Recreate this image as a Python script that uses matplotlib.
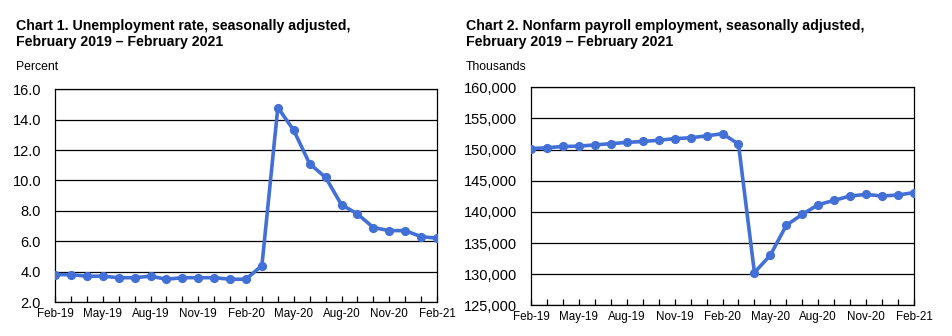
import matplotlib
matplotlib.use("Agg")
import matplotlib.pyplot as plt
from matplotlib.ticker import FuncFormatter, MultipleLocator, FixedLocator

plt.rcParams['font.family'] = ['Liberation Sans', 'DejaVu Sans']

months = ["Feb-19", "Mar-19", "Apr-19", "May-19", "Jun-19", "Jul-19", "Aug-19", "Sep-19",
          "Oct-19", "Nov-19", "Dec-19", "Jan-20", "Feb-20", "Mar-20", "Apr-20", "May-20",
          "Jun-20", "Jul-20", "Aug-20", "Sep-20", "Oct-20", "Nov-20", "Dec-20", "Jan-21", "Feb-21"]
unemployment = [3.8, 3.8, 3.7, 3.7, 3.6, 3.6, 3.7, 3.5, 3.6, 3.6, 3.6, 3.5, 3.5,
                4.4, 14.8, 13.3, 11.1, 10.2, 8.4, 7.8, 6.9, 6.7, 6.7, 6.3, 6.2]
payroll = [150150, 150300, 150500, 150550, 150750, 150950, 151150, 151300, 151500,
           151750, 151900, 152200, 152550, 150900, 130250, 133050, 137850, 139600,
           141150, 141850, 142550, 142800, 142550, 142700, 143100]

title1 = "Chart 1. Unemployment rate, seasonally adjusted,\nFebruary 2019 – February 2021"
title2 = "Chart 2. Nonfarm payroll employment, seasonally adjusted,\nFebruary 2019 – February 2021"
ylabel1 = "Percent"
ylabel2 = "Thousands"

W, H = 952, 336
fig = plt.figure(figsize=(W / 100, H / 100), dpi=100)

color = '#4270D6'


def fx(px):
    return px / W


def fy(py):
    return 1 - py / H


def make_axes(x0, x1, ytop, ybot):
    return fig.add_axes([fx(x0), fy(ybot), fx(x1) - fx(x0), fy(ytop) - fy(ybot)])


def style(ax, values, ymin, ymax, step, fmt):
    x = list(range(len(months)))
    ax.plot(x, values, color=color, lw=2.6, marker='o', ms=5.6, zorder=3,
            solid_joinstyle='round')
    ax.set_xlim(0, len(months) - 1)
    ax.set_ylim(ymin, ymax)
    ax.yaxis.set_major_locator(MultipleLocator(step))
    ax.yaxis.set_major_formatter(FuncFormatter(fmt))
    ax.grid(axis='y', color='black', lw=0.9)
    ax.set_axisbelow(True)
    ax.xaxis.set_major_locator(FixedLocator(x[::3]))
    ax.set_xticklabels(months[::3])
    ax.xaxis.set_minor_locator(FixedLocator(x))
    ax.tick_params(axis='x', which='both', direction='in', length=4, width=0.9,
                   labelsize=8.4, pad=4, colors='black')
    ax.tick_params(axis='y', length=0, labelsize=10.5, pad=10)
    for s in ax.spines.values():
        s.set_linewidth(0.9)
        s.set_color('black')


ax1 = make_axes(55, 437, 89.3, 302)
style(ax1, unemployment, 2.0, 16.0, 2.0, lambda v, p: f"{v:.1f}")
fig.text(fx(16), fy(19), title1, fontsize=10.2, fontweight='bold', va='top', ha='left',
         linespacing=1.2)
fig.text(fx(16), fy(61), ylabel1, fontsize=8.8, va='top', ha='left')

ax2 = make_axes(531, 914, 87.3, 305.3)
style(ax2, payroll, 125000, 160000, 5000, lambda v, p: f"{int(v):,}")
fig.text(fx(466), fy(19), title2, fontsize=10.2, fontweight='bold', va='top', ha='left',
         linespacing=1.2)
fig.text(fx(466), fy(61), ylabel2, fontsize=8.8, va='top', ha='left')

fig.savefig("out.png", dpi=100)
